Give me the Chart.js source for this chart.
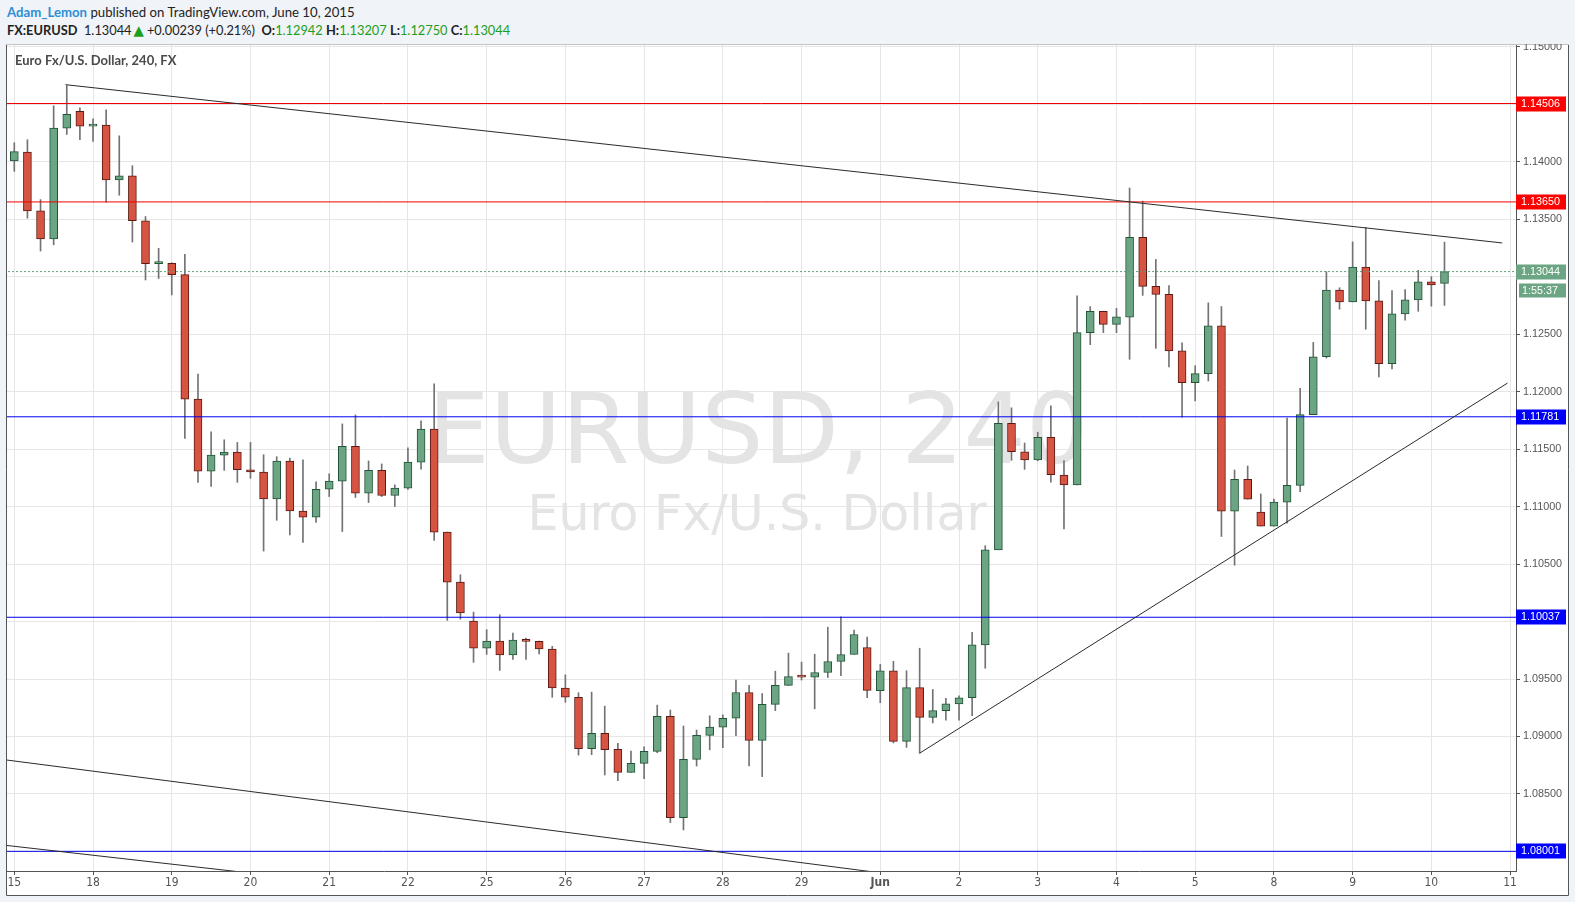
<!DOCTYPE html>
<html><head><meta charset="utf-8">
<script src="https://cdn.jsdelivr.net/npm/chart.js@4.4.0/dist/chart.umd.min.js"></script>
<style>
html,body{margin:0;padding:0;background:#f0f3f7;width:1575px;height:902px;overflow:hidden;}
#wrap{position:absolute;left:0;top:0;width:1575px;height:902px;}
#hdr{position:absolute;left:0;top:0;width:1575px;height:44px;background:#f0f3f7;z-index:2;font-family:Lato,'Open Sans',sans-serif;font-size:13px;color:#222;white-space:nowrap;}
#l1{position:absolute;left:7px;top:4px;font-size:13.2px;}
#l2{position:absolute;left:7px;top:22px;font-size:12.8px;}
.u{color:#2c8fd6;font-weight:bold}
.b{font-weight:bold}
.g{color:#1e9e1e}
.t{color:#1e9e1e;font-family:'DejaVu Sans',sans-serif;font-size:13.5px;line-height:10px;margin:0 3px 0 2px}
</style></head>
<body>
<div id="wrap"><canvas id="c" width="1575" height="902" style="width:1575px;height:902px"></canvas></div>
<div id="hdr">
<div id="l1"><span class="u">Adam_Lemon</span> published on TradingView.com, June 10, 2015</div>
<div id="l2"><span class="b">FX:EURUSD</span>&nbsp; 1.13044<span class="t">&#9650;</span>+0.00239 (+0.21%)&nbsp;&nbsp;<span class="b">O:</span><span class="g">1.12942</span> <span class="b">H:</span><span class="g">1.13207</span> <span class="b">L:</span><span class="g">1.12750</span> <span class="b">C:</span><span class="g">1.13044</span></div>
</div>
<script>
// ---- data (4h candles, EURUSD) ----
const openP = [1.14006,1.14084,1.13572,1.13329,1.14292,1.14439,1.14309,1.14318,1.13841,1.13876,
1.13486,1.13113,1.13116,1.13017,1.11934,1.11309,1.11448,1.11474,1.11320,1.11301,
1.11066,1.11396,1.10960,1.10908,1.11151,1.11221,1.11525,1.11116,1.11316,1.11096,
1.11160,1.11386,1.11673,1.10778,1.10343,1.10004,1.09769,1.09830,1.09709,1.09839,
1.09827,1.09761,1.09422,1.09341,1.08894,1.09027,1.08888,1.08688,1.08766,1.08870,
1.09175,1.08294,1.08801,1.09010,1.09081,1.09159,1.09383,1.08966,1.09279,1.09444,
1.09522,1.09516,1.09557,1.09652,1.09713,1.09774,1.09399,1.09572,1.08957,1.09425,
1.09167,1.09225,1.09284,1.09337,1.09797,1.10624,1.11725,1.11477,1.11405,1.11603,
1.11275,1.11189,1.12513,1.12699,1.12585,1.12647,1.13343,1.12915,1.12846,1.12355,
1.12078,1.12156,1.12572,1.10960,1.11237,1.10951,1.10830,1.11038,1.11185,1.11800,
1.12303,1.12884,1.12780,1.13084,1.12789,1.12243,1.12676,1.12798,1.12954,1.12942];
const highP = [1.14165,1.14191,1.13670,1.14486,1.14662,1.14468,1.14373,1.14451,1.14225,1.13965,
1.13523,1.13246,1.13121,1.13194,1.12153,1.11650,1.11581,1.11558,1.11558,1.11451,
1.11434,1.11422,1.11406,1.11215,1.11285,1.11719,1.11797,1.11397,1.11371,1.11189,
1.11510,1.11745,1.12067,1.10778,1.10407,1.10082,1.09929,1.10059,1.09900,1.09856,
1.09831,1.09784,1.09536,1.09381,1.09386,1.09264,1.08940,1.08873,1.08911,1.09273,
1.09230,1.09091,1.09056,1.09180,1.09188,1.09490,1.09444,1.09374,1.09568,1.09725,
1.09647,1.09716,1.09951,1.10040,1.09925,1.09864,1.09627,1.09654,1.09572,1.09768,
1.09409,1.09333,1.09353,1.09905,1.10660,1.11910,1.11859,1.11553,1.11647,1.11876,
1.11399,1.12833,1.12739,1.12699,1.12725,1.13771,1.13657,1.13150,1.12922,1.12425,
1.12225,1.12772,1.12740,1.11318,1.11353,1.11110,1.11066,1.11769,1.12029,1.12428,
1.13043,1.12904,1.13303,1.13428,1.12965,1.12879,1.12887,1.13055,1.13000,1.13300];
const lowP = [1.13916,1.13509,1.13223,1.13277,1.14237,1.14191,1.14176,1.13647,1.13708,1.13301,
1.12971,1.12984,1.12841,1.11592,1.11211,1.11176,1.11315,1.11211,1.11246,1.10613,
1.10881,1.10754,1.10688,1.10862,1.11087,1.10783,1.11079,1.11035,1.11087,1.11000,
1.11150,1.11325,1.10705,1.10010,1.10021,1.09645,1.09714,1.09575,1.09671,1.09671,
1.09719,1.09341,1.09297,1.08838,1.08842,1.08665,1.08616,1.08688,1.08633,1.08859,
1.08251,1.08187,1.08743,1.08884,1.08902,1.09007,1.08743,1.08651,1.09225,1.09444,
1.09491,1.09241,1.09513,1.09530,1.09713,1.09337,1.09294,1.08944,1.08905,1.08855,
1.09118,1.09141,1.09141,1.09182,1.09594,1.10624,1.11402,1.11324,1.11398,1.11213,
1.10806,1.11189,1.12408,1.12513,1.12513,1.12281,1.12837,1.12376,1.12214,1.11777,
1.11919,1.12092,1.10740,1.10490,1.11064,1.10830,1.10830,1.10855,1.11130,1.11800,
1.12292,1.12717,1.12780,1.12543,1.12127,1.12197,1.12621,1.12699,1.12743,1.12750];
const closeP = [1.14087,1.13572,1.13329,1.14292,1.14413,1.14309,1.14318,1.13841,1.13876,1.13486,
1.13113,1.13116,1.13017,1.11934,1.11309,1.11448,1.11474,1.11320,1.11301,1.11066,
1.11396,1.10962,1.10908,1.11151,1.11221,1.11525,1.11116,1.11316,1.11096,1.11160,
1.11386,1.11673,1.10778,1.10343,1.10074,1.09769,1.09830,1.09709,1.09839,1.09827,
1.09761,1.09422,1.09341,1.08894,1.09027,1.08885,1.08688,1.08766,1.08870,1.09175,
1.08294,1.08801,1.09010,1.09081,1.09159,1.09383,1.08966,1.09279,1.09444,1.09522,
1.09516,1.09557,1.09652,1.09713,1.09887,1.09401,1.09572,1.08957,1.09425,1.09167,
1.09225,1.09284,1.09337,1.09797,1.10624,1.11725,1.11477,1.11405,1.11603,1.11278,
1.11189,1.12513,1.12699,1.12585,1.12650,1.13343,1.12915,1.12846,1.12355,1.12078,
1.12156,1.12572,1.10960,1.11237,1.11064,1.10830,1.11038,1.11185,1.11800,1.12303,
1.12884,1.12780,1.13084,1.12789,1.12243,1.12676,1.12798,1.12954,1.12928,1.13044];

const dayIdx = [0,6,12,18,24,30,36,42,48,54,60,66,72,78,84,90,96,102,108,114];
const dayLabels = ['15','18','19','20','21','22','25','26','27','28','29','Jun','2','3','4','5','8','9','10','11'];
const priceTicks = [1.080,1.085,1.090,1.095,1.100,1.105,1.110,1.115,1.120,1.125,1.130,1.135,1.140,1.145,1.150];
const hiddenTickLabels = [1.080,1.100,1.130,1.145];
const redLevels = [1.14506, 1.13650];
const blueLevels = [1.11781, 1.10037, 1.08001];
const lastPrice = 1.13044;
const timerText = '1:55:37';
// trend lines: [[index, price],[index, price]]
const trendLines = [
  [[3.9, 1.14670], [113.4, 1.13293]],
  [[-0.56, 1.08795], [70, 1.07755]],
  [[-0.56, 1.08052], [20, 1.07786]],
  [[69, 1.08855], [113.8, 1.12074]]
];
const xMin = -0.556, xMax = 114.45, yMin = 1.07830, yMax = 1.15015;

const UP_FILL='#6ba583', UP_LINE='#225437', DN_FILL='#d75442', DN_LINE='#5b1a13';
const idx = openP.map((_, i) => i);
const isUp = i => closeP[i] >= openP[i];

const datasets = [];
datasets.push({
  type:'bar', data: idx.map(i => ({x:i, y:[lowP[i], highP[i]]})),
  backgroundColor:'#737375', borderWidth:0, barThickness:1, grouped:false, order:3
});
datasets.push({
  type:'bar', data: idx.map(i => ({x:i, y:[openP[i], closeP[i]]})),
  backgroundColor: idx.map(i => isUp(i) ? UP_FILL : DN_FILL),
  borderColor: idx.map(i => isUp(i) ? UP_LINE : DN_LINE),
  borderWidth:1, borderSkipped:false, barThickness:8, minBarLength:2, grouped:false, order:2
});
const hline = (p, color, dash) => ({type:'line', data:[{x:-2,y:p},{x:117,y:p}], borderColor:color,
  borderWidth:1, borderDash:dash||[], pointRadius:0, fill:false, tension:0, order:1});
datasets.push(hline(lastPrice, '#5f9c78', [2,2]));
redLevels.forEach(p => datasets.push(hline(p, '#f00000')));
blueLevels.forEach(p => datasets.push(hline(p, '#0000f0')));
trendLines.forEach(t => datasets.push({type:'line', data:t.map(q => ({x:q[0], y:q[1]})),
  borderColor:'#2b2b2b', borderWidth:1, pointRadius:0, fill:false, tension:0, order:0}));

const AXIS_FONT = "'Liberation Sans', Arial, sans-serif";

const panelPlugin = {
  id:'panel',
  beforeDraw(chart){
    const c = chart.ctx;
    c.save();
    c.fillStyle = '#f0f3f7'; c.fillRect(0,0,chart.width,chart.height);
    c.fillStyle = '#ffffff'; c.fillRect(6,44,1562,851);
    c.strokeStyle = '#555'; c.lineWidth = 1;
    c.beginPath(); c.moveTo(6.5,44); c.lineTo(6.5,895.5); c.lineTo(1568.5,895.5); c.lineTo(1568.5,44); c.stroke();
    c.strokeStyle = '#c4c4c4';
    c.beginPath(); c.moveTo(6,44.5); c.lineTo(1569,44.5); c.stroke();
    c.restore();
  },
  beforeDatasetsDraw(chart){
    const c = chart.ctx, a = chart.chartArea;
    c.save();
    c.beginPath(); c.rect(a.left, a.top, a.right-a.left, a.bottom-a.top); c.clip();
    c.fillStyle = '#e4e4e4';
    c.textAlign = 'center'; c.textBaseline = 'alphabetic';
    c.font = "98px 'DejaVu Sans', sans-serif";
    c.fillText('EURUSD, 240', 758, 463);
    c.font = "49px 'DejaVu Sans', sans-serif";
    c.fillText('Euro Fx/U.S. Dollar', 757, 530);
    c.restore();
  },
  afterDraw(chart){
    const c = chart.ctx, ys = chart.scales.y, a = chart.chartArea;
    c.save();
    c.font = "10.8px " + AXIS_FONT;
    c.textBaseline = 'middle'; c.textAlign = 'left';
    const box = (p, bg, txt) => {
      const y = Math.round(ys.getPixelForValue(p));
      c.fillStyle = bg; c.fillRect(a.right, y-7.5, 50, 15);
      c.fillStyle = '#fff'; c.fillText(txt, a.right+5, y+0.5);
      return y;
    };
    redLevels.forEach(p => box(p, '#ff0000', p.toFixed(5)));
    blueLevels.forEach(p => box(p, '#0000ff', p.toFixed(5)));
    const y = box(lastPrice, '#6ba583', lastPrice.toFixed(5));
    c.fillStyle = '#6ba583'; c.fillRect(a.right+3, y+11.5, 47, 14);
    c.fillStyle = '#fff'; c.fillText(timerText, a.right+6, y+19);
    // chart title
    c.font = "bold 13px Lato, 'Open Sans', sans-serif";
    c.fillStyle = '#4a4a4a'; c.textBaseline = 'alphabetic';
    c.fillText('Euro Fx/U.S. Dollar, 240, FX', 15, 65);
    c.restore();
  }
};

new Chart(document.getElementById('c'), {
  type:'bar',
  data:{datasets},
  plugins:[panelPlugin],
  options:{
    responsive:false, animation:false, events:[],
    layout:{padding:{left:7, top:45, right:7, bottom:7}},
    plugins:{legend:{display:false}, tooltip:{enabled:false}},
    scales:{
      x:{
        type:'linear', min:xMin, max:xMax, offset:false,
        grid:{color:'#e6e6e6', offset:false, tickColor:'#555', tickLength:4, drawTicks:true},
        border:{color:'#555', width:1},
        afterBuildTicks: s => { s.ticks = dayIdx.map(v => ({value:v})); },
        afterFit: s => { s.height = 24; },
        ticks:{
          autoSkip:false, maxRotation:0, minRotation:0, padding:1, color:'#555',
          font: ctx => ({family:"'Liberation Sans Narrow','DejaVu Sans Condensed',sans-serif", size:12,
                         weight: (ctx.tick && ctx.tick.label === 'Jun') ? 'bold' : 'normal'}),
          callback: v => { const k = dayIdx.indexOf(Math.round(v)); return k >= 0 ? dayLabels[k] : ''; }
        }
      },
      y:{
        type:'linear', position:'right', min:yMin, max:yMax, beginAtZero:false,
        grid:{color:'#e6e6e6', tickColor:'#555', tickLength:4, drawTicks:true},
        border:{color:'#555', width:1},
        afterBuildTicks: s => { s.ticks = priceTicks.map(v => ({value:v})); },
        afterFit: s => { s.width = 52; },
        ticks:{
          padding:3, color:'#555', font:{family:AXIS_FONT, size:10.8},
          callback: v => hiddenTickLabels.some(h => Math.abs(h-v) < 1e-7) ? '' : Number(v).toFixed(5)
        }
      }
    }
  }
});
</script>
</body></html>
